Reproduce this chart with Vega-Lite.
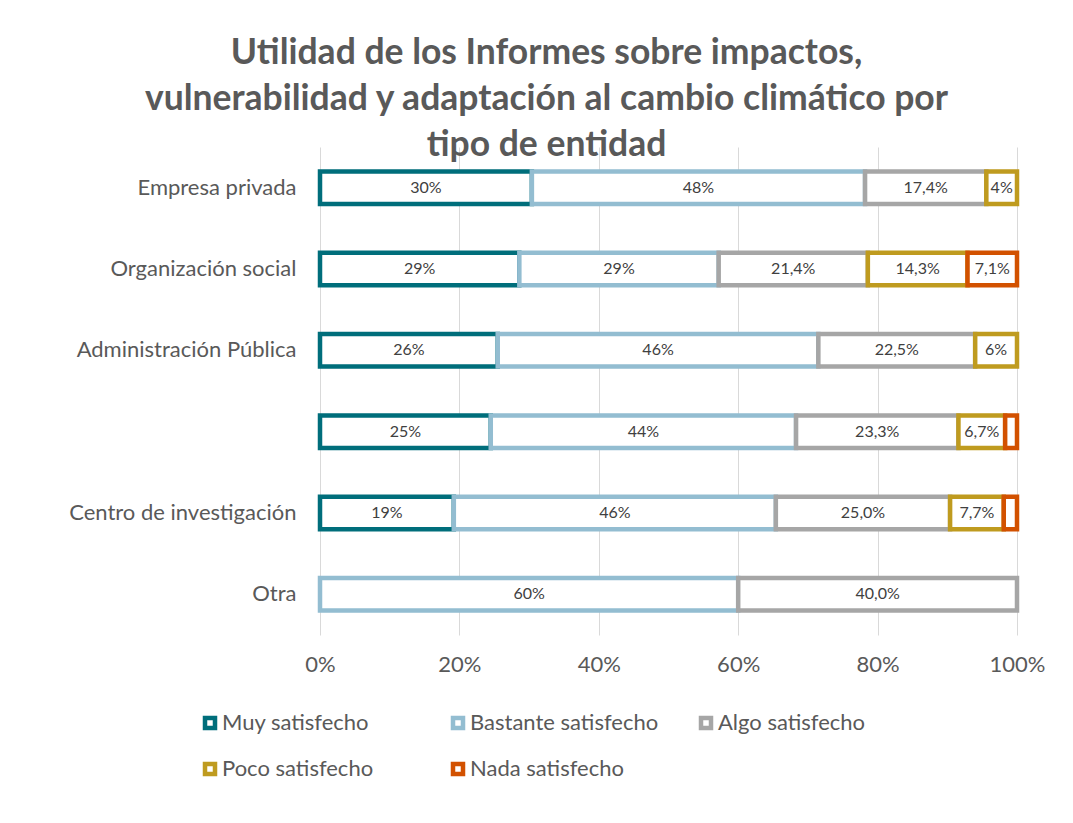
{
  "$schema": "https://vega.github.io/schema/vega-lite/v6.json",
  "width": 697,
  "height": 488,
  "autosize": "none",
  "padding": {"left": 320, "top": 147, "right": 56, "bottom": 188},
  "background": "white",
  "config": {
    "font": "Lato",
    "view": {"stroke": null}
  },
  "title": {
    "text": ["Utilidad de los Informes sobre impactos,", "vulnerabilidad y adaptación al cambio climático por", "tipo de entidad"],
    "fontSize": 35.5,
    "fontWeight": "bold",
    "color": "#595959",
    "lineHeight": 46,
    "anchor": "middle",
    "dx": -122,
    "baseline": "alphabetic",
    "offset": -44
  },
  "data": {
    "values": [
      {"entidad": "Empresa privada", "nivel": "Muy satisfecho", "orden": 1, "pct": 0.304, "label": "30%"},
      {"entidad": "Empresa privada", "nivel": "Bastante satisfecho", "orden": 2, "pct": 0.478, "label": "48%"},
      {"entidad": "Empresa privada", "nivel": "Algo satisfecho", "orden": 3, "pct": 0.174, "label": "17,4%"},
      {"entidad": "Empresa privada", "nivel": "Poco satisfecho", "orden": 4, "pct": 0.044, "label": "4%"},
      {"entidad": "Organización social", "nivel": "Muy satisfecho", "orden": 1, "pct": 0.286, "label": "29%"},
      {"entidad": "Organización social", "nivel": "Bastante satisfecho", "orden": 2, "pct": 0.286, "label": "29%"},
      {"entidad": "Organización social", "nivel": "Algo satisfecho", "orden": 3, "pct": 0.214, "label": "21,4%"},
      {"entidad": "Organización social", "nivel": "Poco satisfecho", "orden": 4, "pct": 0.143, "label": "14,3%"},
      {"entidad": "Organización social", "nivel": "Nada satisfecho", "orden": 5, "pct": 0.071, "label": "7,1%"},
      {"entidad": "Administración Pública", "nivel": "Muy satisfecho", "orden": 1, "pct": 0.255, "label": "26%"},
      {"entidad": "Administración Pública", "nivel": "Bastante satisfecho", "orden": 2, "pct": 0.46, "label": "46%"},
      {"entidad": "Administración Pública", "nivel": "Algo satisfecho", "orden": 3, "pct": 0.225, "label": "22,5%"},
      {"entidad": "Administración Pública", "nivel": "Poco satisfecho", "orden": 4, "pct": 0.06, "label": "6%"},
      {"entidad": " ", "nivel": "Muy satisfecho", "orden": 1, "pct": 0.245, "label": "25%"},
      {"entidad": " ", "nivel": "Bastante satisfecho", "orden": 2, "pct": 0.438, "label": "44%"},
      {"entidad": " ", "nivel": "Algo satisfecho", "orden": 3, "pct": 0.233, "label": "23,3%"},
      {"entidad": " ", "nivel": "Poco satisfecho", "orden": 4, "pct": 0.067, "label": "6,7%"},
      {"entidad": " ", "nivel": "Nada satisfecho", "orden": 5, "pct": 0.017, "label": ""},
      {"entidad": "Centro de investigación", "nivel": "Muy satisfecho", "orden": 1, "pct": 0.192, "label": "19%"},
      {"entidad": "Centro de investigación", "nivel": "Bastante satisfecho", "orden": 2, "pct": 0.462, "label": "46%"},
      {"entidad": "Centro de investigación", "nivel": "Algo satisfecho", "orden": 3, "pct": 0.25, "label": "25,0%"},
      {"entidad": "Centro de investigación", "nivel": "Poco satisfecho", "orden": 4, "pct": 0.077, "label": "7,7%"},
      {"entidad": "Centro de investigación", "nivel": "Nada satisfecho", "orden": 5, "pct": 0.019, "label": ""},
      {"entidad": "Otra", "nivel": "Bastante satisfecho", "orden": 2, "pct": 0.6, "label": "60%"},
      {"entidad": "Otra", "nivel": "Algo satisfecho", "orden": 3, "pct": 0.4, "label": "40,0%"}
    ]
  },
  "encoding": {
    "y": {
      "field": "entidad",
      "type": "nominal",
      "sort": ["Empresa privada", "Organización social", "Administración Pública", " ", "Centro de investigación", "Otra"],
      "scale": {"paddingInner": 0.6, "paddingOuter": 0.3},
      "axis": {
        "title": null,
        "domain": false,
        "ticks": false,
        "labelFontSize": 22,
        "labelColor": "#595959",
        "labelPadding": 24,
        "labelLimit": 300
      }
    },
    "x": {
      "field": "pct",
      "type": "quantitative",
      "stack": "zero",
      "scale": {"domain": [0, 1], "nice": false},
      "axis": {
        "title": null,
        "values": [0, 0.2, 0.4, 0.6, 0.8, 1],
        "format": ".0%",
        "grid": true,
        "gridColor": "#D9D9D9",
        "gridWidth": 1,
        "domain": false,
        "ticks": false,
        "labelFlush": false,
        "labelFontSize": 22,
        "labelColor": "#595959",
        "labelPadding": 19
      }
    },
    "order": {"field": "orden", "type": "quantitative"}
  },
  "layer": [
    {
      "mark": {"type": "bar", "fill": "white", "strokeWidth": 4.5, "strokeJoin": "miter"},
      "encoding": {
        "stroke": {
          "field": "nivel",
          "type": "nominal",
          "scale": {
            "domain": ["Muy satisfecho", "Bastante satisfecho", "Algo satisfecho", "Poco satisfecho", "Nada satisfecho"],
            "range": ["#006E7B", "#93BDD1", "#A6A6A6", "#BF9B1F", "#D25100"]
          },
          "legend": {
            "title": null,
            "orient": "none",
            "direction": "horizontal",
            "legendX": -121,
            "legendY": 565,
            "columns": 3,
            "gridAlign": "all",
            "columnPadding": 33,
            "rowPadding": 18,
            "symbolType": "square",
            "symbolSize": 100,
            "symbolStrokeWidth": 4.5,
            "symbolFillColor": "white",
            "labelFontSize": 22,
            "labelColor": "#595959",
            "labelOffset": 1,
            "labelLimit": 300
          }
        }
      }
    },
    {
      "mark": {"type": "text", "fontSize": 16, "color": "#404040", "baseline": "middle", "align": "center"},
      "encoding": {
        "x": {"field": "pct", "type": "quantitative", "stack": "zero", "bandPosition": 0.5},
        "detail": {"field": "nivel", "type": "nominal"},
        "text": {"field": "label", "type": "nominal"}
      }
    }
  ]
}
